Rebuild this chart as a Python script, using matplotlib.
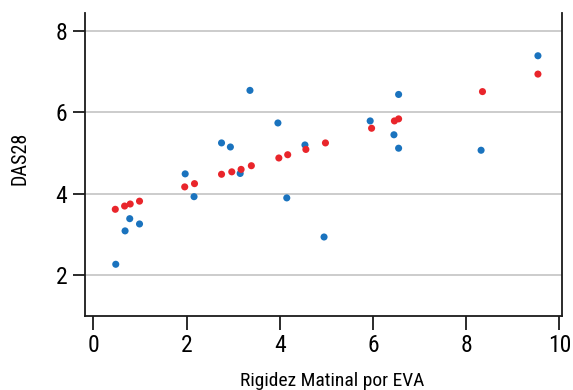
import matplotlib
matplotlib.use("Agg")
import matplotlib.pyplot as plt

plt.rcParams['font.family'] = ['Roboto Condensed', 'DejaVu Sans']

blue_x = [3.36, 3.96, 2.75, 2.94, 4.54, 1.97, 3.15, 2.16, 4.15, 0.78, 0.99, 0.68, 0.48, 4.95,
          9.54, 6.55, 5.94, 6.45, 6.55, 8.32]
blue_y = [6.54, 5.74, 5.25, 5.15, 5.20, 4.49, 4.50, 3.93, 3.90, 3.39, 3.26, 3.09, 2.27, 2.94,
          7.39, 6.44, 5.79, 5.45, 5.12, 5.07]
red_x = [0.47, 0.67, 0.79, 0.99, 1.96, 2.17, 2.75, 2.97, 3.17, 3.39, 3.98, 4.17, 4.56, 4.98,
         9.54, 8.35, 6.46, 6.55, 5.97]
red_y = [3.62, 3.70, 3.75, 3.82, 4.17, 4.25, 4.48, 4.54, 4.60, 4.69, 4.88, 4.96, 5.09, 5.25,
         6.94, 6.51, 5.79, 5.84, 5.61]
x_ticks = [0, 2, 4, 6, 8, 10]
y_ticks = [2, 4, 6, 8]

fig = plt.figure(figsize=(5.73, 3.90), dpi=100)
ax = fig.add_axes([85/573, 74/390, (561.7-85)/573, (316-13)/390])
ax.set_xlim(-0.18, 10.05)
ax.set_ylim(1.0, 8.44)
for yt in y_ticks:
    ax.axhline(yt, color='#c8c8c8', lw=1.3, zorder=0)
ax.scatter(blue_x, blue_y, s=26, color='#1a73be', edgecolors='none', zorder=3)
ax.scatter(red_x, red_y, s=26, color='#e9252b', edgecolors='none', zorder=3)
ax.set_xticks(x_ticks)
ax.set_yticks(y_ticks)
ax.spines['top'].set_visible(False)
for s in ['left', 'right', 'bottom']:
    ax.spines[s].set_linewidth(1.3)
    ax.spines[s].set_color('#1a1a1a')
ax.tick_params(axis='x', length=10, width=1.3, color='#1a1a1a', labelsize=17, pad=3)
ax.tick_params(axis='y', length=8.6, width=1.3, color='#1a1a1a', labelsize=17, pad=4)
fig.text(332/573, 4.5/390, 'Rigidez Matinal por EVA', fontsize=14, ha='center', va='baseline')
fig.text(20/573, (390-158.5)/390, 'DAS28', fontsize=14.5, rotation=90, ha='center', va='center')
fig.savefig('out.png', dpi=100)
